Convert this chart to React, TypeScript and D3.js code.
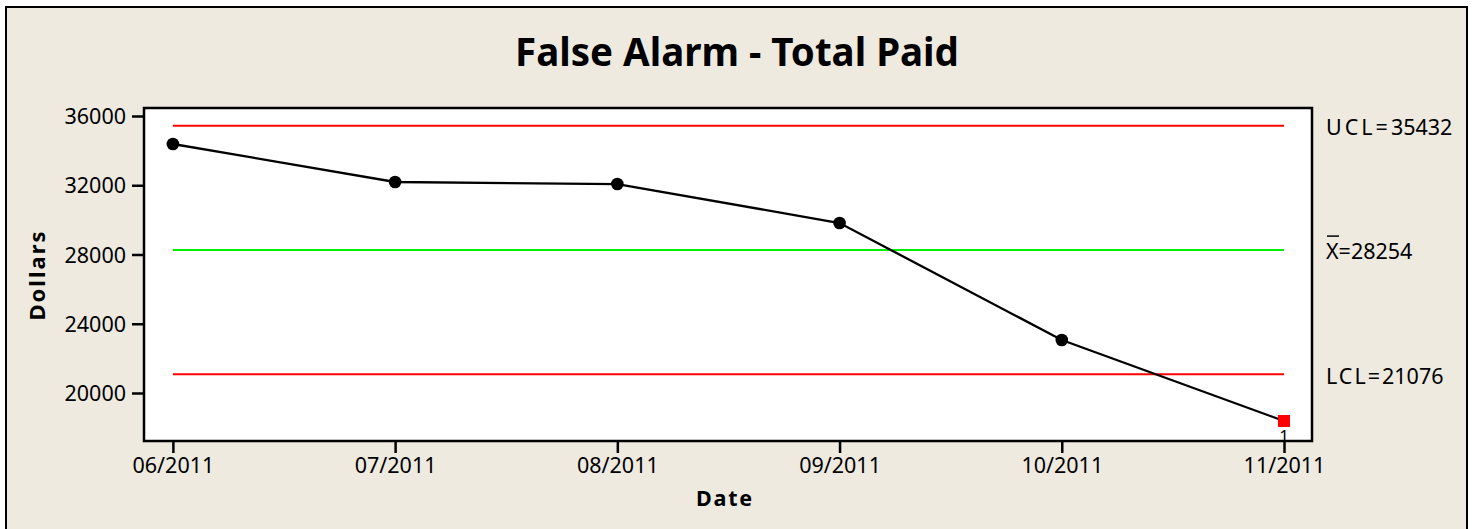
import React, { useEffect, useRef } from "react";
import * as d3 from "d3";

const dates = ["06/2011", "07/2011", "08/2011", "09/2011", "10/2011", "11/2011"];
const totalPaid = [34383, 32188, 32070, 29819, 23061, 18383];
const failed = [false, false, false, false, false, true];
const yTicks = [20000, 24000, 28000, 32000, 36000];
const UCL = 35432;
const MEAN = 28254;
const LCL = 21076;

const W = 1473;
const H = 529;
const plot = { left: 144, right: 1312, top: 108, bottom: 441 };
const FONT = "'Noto Sans', 'DejaVu Sans', sans-serif";

export default function App() {
  const ref = useRef<SVGSVGElement | null>(null);

  useEffect(() => {
    const svg = d3.select(ref.current);
    svg.selectAll("*").remove();

    const x = d3.scaleLinear().domain([-0.13, 5.126]).range([plot.left, plot.right]);
    const y = d3.scaleLinear().domain([17227, 36462]).range([plot.bottom, plot.top]);

    svg.append("rect").attr("x", 0).attr("y", 0).attr("width", W).attr("height", H).attr("fill", "#ffffff");
    svg.append("rect").attr("x", 6).attr("y", 7).attr("width", 1461).attr("height", 540)
      .attr("fill", "#EEEAE0").attr("stroke", "#000").attr("stroke-width", 2);

    svg.append("rect").attr("x", plot.left).attr("y", plot.top)
      .attr("width", plot.right - plot.left).attr("height", plot.bottom - plot.top)
      .attr("fill", "#ffffff").attr("stroke", "#000").attr("stroke-width", 2.5);

    // title
    svg.append("text").attr("x", 737).attr("y", 66).attr("text-anchor", "middle")
      .attr("font-family", FONT).attr("font-weight", "bold").attr("font-size", 38.5)
      .attr("fill", "#000").text("False Alarm - Total Paid");

    // y axis
    const yAxis = d3.axisLeft(y).tickValues(yTicks).tickSize(11).tickPadding(6).tickFormat(d3.format("d"));
    const gy = svg.append("g").attr("transform", `translate(${plot.left - 1},0)`).call(yAxis);
    gy.select(".domain").remove();
    gy.selectAll("line").attr("stroke", "#000").attr("stroke-width", 2.5);
    gy.selectAll("text").attr("font-family", FONT).attr("font-size", 21.5).attr("fill", "#000").attr("dy", "0.35em");

    // x axis
    const xAxis = d3.axisBottom(x).tickValues(d3.range(dates.length)).tickSize(11).tickPadding(5)
      .tickFormat((d) => dates[d as number]);
    const gx = svg.append("g").attr("transform", `translate(0,${plot.bottom + 1})`).call(xAxis);
    gx.select(".domain").remove();
    gx.selectAll("line").attr("stroke", "#000").attr("stroke-width", 2.5);
    gx.selectAll("text").attr("font-family", FONT).attr("font-size", 21.5).attr("fill", "#000").attr("dy", "0.71em");

    // axis titles
    svg.append("text").attr("transform", `translate(45,275) rotate(-90)`).attr("text-anchor", "middle")
      .attr("font-family", FONT).attr("font-weight", "bold").attr("font-size", 22).attr("letter-spacing", 2)
      .attr("fill", "#000").text("Dollars");
    svg.append("text").attr("x", 725).attr("y", 506).attr("text-anchor", "middle")
      .attr("font-family", FONT).attr("font-weight", "bold").attr("font-size", 21.5).attr("letter-spacing", 1.8)
      .attr("fill", "#000").text("Date");

    // control lines
    const ctrl = [
      { v: UCL, color: "#ff0000" },
      { v: MEAN, color: "#00ee00" },
      { v: LCL, color: "#ff0000" },
    ];
    ctrl.forEach((c) => {
      svg.append("line").attr("x1", x(0)).attr("x2", x(dates.length - 1))
        .attr("y1", y(c.v)).attr("y2", y(c.v)).attr("stroke", c.color).attr("stroke-width", 2);
    });

    // control labels
    const lblX = 1326;
    const lab = (v: number) =>
      svg.append("text").attr("x", lblX).attr("y", y(v) + 1).attr("dy", "0.38em")
        .attr("font-family", FONT).attr("font-size", 21.5).attr("fill", "#000");
    const u = lab(UCL);
    u.append("tspan").attr("letter-spacing", 3).text("UCL=");
    u.append("tspan").text(String(UCL));
    const m = lab(MEAN);
    m.append("tspan").text("X");
    m.append("tspan").text("=" + MEAN);
    svg.append("line").attr("x1", lblX + 1).attr("x2", lblX + 13).attr("y1", y(MEAN) - 14).attr("y2", y(MEAN) - 14)
      .attr("stroke", "#000").attr("stroke-width", 1.5);
    const l = lab(LCL);
    l.append("tspan").attr("letter-spacing", 2).text("LCL=");
    l.append("tspan").text(String(LCL));

    // data line
    const line = d3.line<number>().x((_, i) => x(i)).y((d) => y(d));
    svg.append("path").datum(totalPaid).attr("d", line).attr("fill", "none")
      .attr("stroke", "#000").attr("stroke-width", 2.3);

    totalPaid.forEach((v, i) => {
      if (failed[i]) {
        svg.append("rect").attr("x", x(i) - 6).attr("y", y(v) - 6).attr("width", 12).attr("height", 12)
          .attr("fill", "#ff0000");
        svg.append("text").attr("x", x(i)).attr("y", y(v) + 9).attr("dy", "0.71em").attr("text-anchor", "middle")
          .attr("font-family", FONT).attr("font-size", 17).attr("fill", "#000").text("1");
      } else {
        svg.append("circle").attr("cx", x(i)).attr("cy", y(v)).attr("r", 6.3).attr("fill", "#000");
      }
    });
  }, []);

  return (
    <svg ref={ref} width={W} height={H} style={{ position: "absolute", left: 0, top: 0 }} />
  );
}
